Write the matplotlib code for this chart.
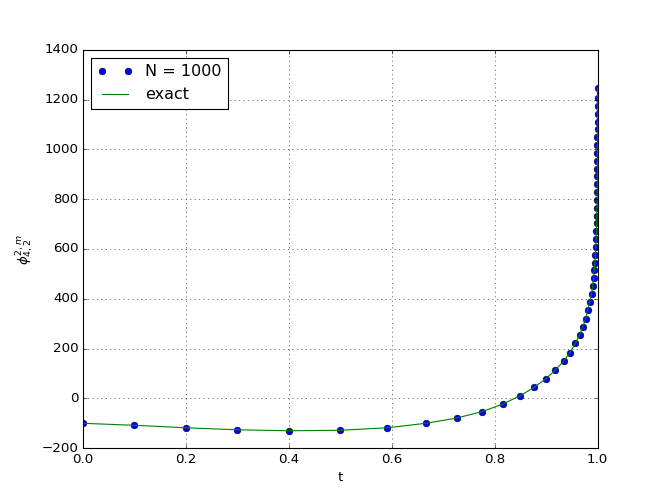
import matplotlib
matplotlib.use("Agg")
import matplotlib.pyplot as plt

plt.style.use("classic")
plt.rcParams["mathtext.fontset"] = "dejavusans"

# t values of the sample points
t_vals = [0.0, 0.1, 0.2, 0.3, 0.4, 0.5, 0.591, 0.666, 0.726, 0.776, 0.8165,
          0.850, 0.877, 0.899, 0.918, 0.934, 0.9455, 0.957, 0.965, 0.971,
          0.9767, 0.9805, 0.9844, 0.9883,
          0.9904, 0.9922, 0.9936, 0.9947, 0.9957, 0.9965, 0.9971, 0.9976,
          0.9981, 0.9984, 0.9987, 0.9989, 0.9991, 0.9993, 0.9994, 0.9995,
          0.9996, 0.99968, 0.99974, 0.99979, 0.99983, 0.99986, 0.99988,
          0.9999, 0.99992, 0.99994]

# phi values (N = 1000 approximation)
phi_vals = [-100, -108, -118, -126, -130, -128, -118, -100, -79, -53, -22,
            11, 45, 78, 114, 150, 182, 222, 254, 287, 319, 355, 387, 419,
            451, 482, 514, 545, 577, 608, 640, 671, 703, 734, 766, 797, 829,
            860, 892, 923, 955, 986, 1018, 1049, 1081, 1112, 1144, 1175,
            1207, 1245]

# exact solution (through the same points)
exact_vals = list(phi_vals)

x_ticks = [0.0, 0.2, 0.4, 0.6, 0.8, 1.0]
y_ticks = [-200, 0, 200, 400, 600, 800, 1000, 1200, 1400]

fig = plt.figure(figsize=(8.3, 6.225), dpi=80)
ax = fig.add_subplot(111)
ax.plot(t_vals, phi_vals, "bo", label="N = 1000")
ax.plot(t_vals, exact_vals, "g-", label="exact")
ax.set_xlim(0, 1)
ax.set_ylim(-200, 1400)
ax.set_xticks(x_ticks)
ax.set_yticks(y_ticks)
ax.grid(True)
ax.set_xlabel("t")
ax.set_ylabel(r"$\phi^{2,m}_{4,2}$")
ax.legend(loc="upper left", handlelength=2.2)
fig.savefig("out.png", dpi=80)
